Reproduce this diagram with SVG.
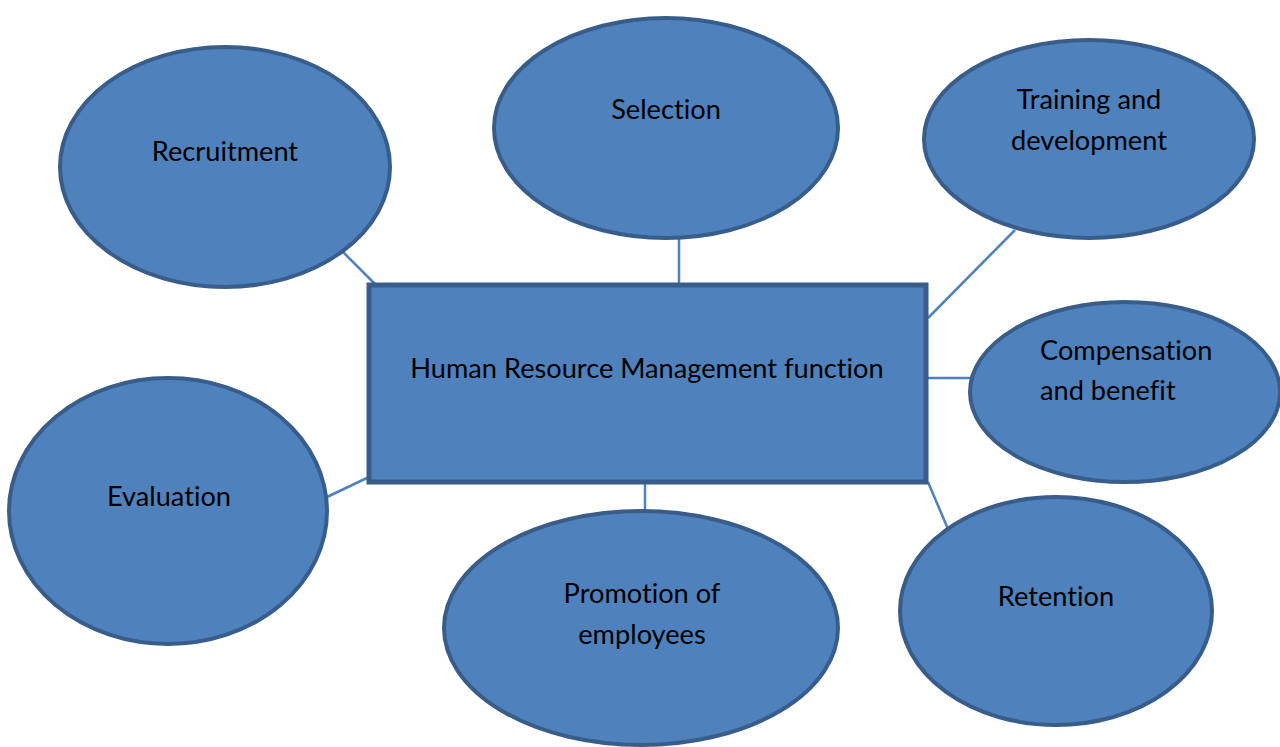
<svg xmlns="http://www.w3.org/2000/svg" width="1280" height="747" viewBox="0 0 1280 747">
  <style>
    .node { fill: #4F81BD; stroke: #385D8A; stroke-width: 4; }
    .box { stroke-width: 5; }
    .link { stroke: #4F81BD; stroke-width: 2.5; fill: none; }
    .label { font-family: Lato, "Open Sans", sans-serif; font-size: 27.2px; fill: #000; text-anchor: middle; font-variant-ligatures: none; }
    .left { text-anchor: start; }
  </style>
  <rect width="1280" height="747" fill="#fff"/>

  <!-- spokes from the central box to each function -->
  <g id="connectors">
    <line class="link" x1="343" y1="252" x2="376" y2="285"/>
    <line class="link" x1="679" y1="238" x2="679" y2="285"/>
    <line class="link" x1="1015" y1="230" x2="928" y2="318"/>
    <line class="link" x1="928" y1="378" x2="971" y2="378"/>
    <line class="link" x1="327" y1="497" x2="369" y2="477"/>
    <line class="link" x1="645" y1="482" x2="645" y2="511"/>
    <line class="link" x1="928" y1="482" x2="948" y2="529"/>
  </g>

  <g id="hrm">
    <rect class="node box" x="369" y="285" width="557" height="197"/>
    <text class="label" x="647" y="378">Human Resource Management function</text>
  </g>

  <g id="recruitment">
    <ellipse class="node" cx="225" cy="167" rx="165" ry="120"/>
    <text class="label" x="225" y="161">Recruitment</text>
  </g>

  <g id="selection">
    <ellipse class="node" cx="666" cy="128" rx="172" ry="110"/>
    <text class="label" x="666" y="119">Selection</text>
  </g>

  <g id="training">
    <ellipse class="node" cx="1089" cy="139" rx="165" ry="99"/>
    <text class="label" x="1089" y="109">Training and</text>
    <text class="label" x="1089" y="150">development</text>
  </g>

  <g id="compensation">
    <ellipse class="node" cx="1125" cy="392" rx="155" ry="90"/>
    <text class="label left" x="1040" y="360">Compensation</text>
    <text class="label left" x="1040" y="400">and benefit</text>
  </g>

  <g id="evaluation">
    <ellipse class="node" cx="168" cy="511" rx="159" ry="133"/>
    <text class="label" x="169" y="506">Evaluation</text>
  </g>

  <g id="promotion">
    <ellipse class="node" cx="641" cy="628" rx="197" ry="117"/>
    <text class="label" x="642" y="603">Promotion of</text>
    <text class="label" x="642" y="644">employees</text>
  </g>

  <g id="retention">
    <ellipse class="node" cx="1056" cy="611" rx="156" ry="114"/>
    <text class="label" x="1056" y="606">Retention</text>
  </g>
</svg>
